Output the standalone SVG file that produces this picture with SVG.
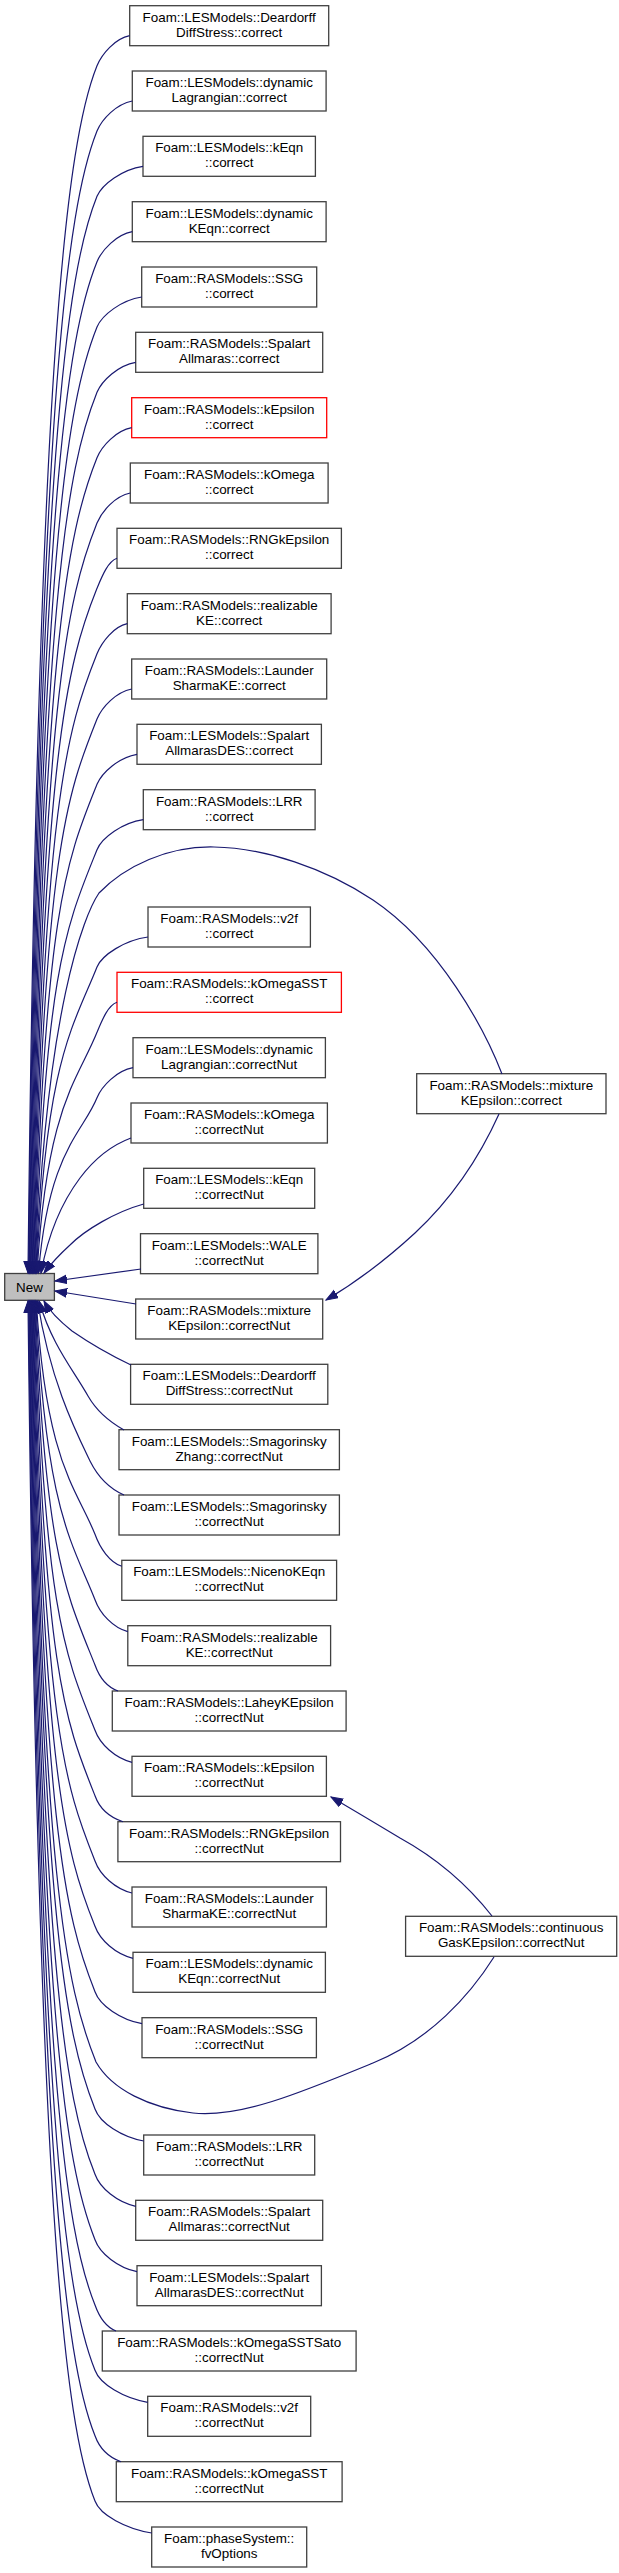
<svg xmlns="http://www.w3.org/2000/svg" width="619" height="2573" viewBox="0 0 619 2573">
<style>
.n rect{fill:#ffffff;stroke:#404040;stroke-width:1.3}
.n.r rect{stroke:#ff0000}
.n.m rect{fill:#bfbfbf}
text{font-family:"Liberation Sans",Arial,Helvetica,sans-serif;font-size:13.4px;text-anchor:middle;fill:#000000}
.e path{fill:none;stroke:#191970;stroke-width:1.2;marker-end:url(#ah)}
</style>
<defs>
<marker id="ah" markerUnits="userSpaceOnUse" markerWidth="14" markerHeight="12" refX="12" refY="5" orient="auto">
<path d="M0,0.6 L12,5 L0,9.4 Z" fill="#191970" stroke="#191970" stroke-width="1"/>
</marker>
</defs>
<rect x="0" y="0" width="619" height="2573" fill="#ffffff"/>
<g id="nodes">
<g id="new" class="n m"><rect x="4.7" y="1273.5" width="49.7" height="26.8"/><text x="29.5" y="1291.5">New</text></g>
<g id="n0" class="n"><rect x="129.7" y="5.7" width="199" height="40"/><text x="229.2" y="21.7">Foam::LESModels::Deardorff</text><text x="229.2" y="36.7">DiffStress::correct</text></g>
<g id="n1" class="n"><rect x="132.3" y="71" width="193.8" height="40"/><text x="229.2" y="87">Foam::LESModels::dynamic</text><text x="229.2" y="102">Lagrangian::correct</text></g>
<g id="n2" class="n"><rect x="143" y="136.3" width="172.4" height="40"/><text x="229.2" y="152.3">Foam::LESModels::kEqn</text><text x="229.2" y="167.3">::correct</text></g>
<g id="n3" class="n"><rect x="132.3" y="201.7" width="193.8" height="40"/><text x="229.2" y="217.7">Foam::LESModels::dynamic</text><text x="229.2" y="232.7">KEqn::correct</text></g>
<g id="n4" class="n"><rect x="141.7" y="267" width="175" height="40"/><text x="229.2" y="283">Foam::RASModels::SSG</text><text x="229.2" y="298">::correct</text></g>
<g id="n5" class="n"><rect x="135.7" y="332.3" width="187" height="40"/><text x="229.2" y="348.3">Foam::RASModels::Spalart</text><text x="229.2" y="363.3">Allmaras::correct</text></g>
<g id="n6" class="n r"><rect x="131.7" y="397.7" width="195" height="40"/><text x="229.2" y="413.7">Foam::RASModels::kEpsilon</text><text x="229.2" y="428.7">::correct</text></g>
<g id="n7" class="n"><rect x="130.3" y="463" width="197.8" height="40"/><text x="229.2" y="479">Foam::RASModels::kOmega</text><text x="229.2" y="494">::correct</text></g>
<g id="n8" class="n"><rect x="117" y="528.3" width="224.4" height="40"/><text x="229.2" y="544.3">Foam::RASModels::RNGkEpsilon</text><text x="229.2" y="559.3">::correct</text></g>
<g id="n9" class="n"><rect x="127.3" y="593.7" width="203.8" height="40"/><text x="229.2" y="609.7">Foam::RASModels::realizable</text><text x="229.2" y="624.7">KE::correct</text></g>
<g id="n10" class="n"><rect x="131.7" y="659" width="195" height="40"/><text x="229.2" y="675">Foam::RASModels::Launder</text><text x="229.2" y="690">SharmaKE::correct</text></g>
<g id="n11" class="n"><rect x="137" y="724.3" width="184.4" height="40"/><text x="229.2" y="740.3">Foam::LESModels::Spalart</text><text x="229.2" y="755.3">AllmarasDES::correct</text></g>
<g id="n12" class="n"><rect x="143.3" y="789.7" width="171.8" height="40"/><text x="229.2" y="805.7">Foam::RASModels::LRR</text><text x="229.2" y="820.7">::correct</text></g>
<g id="n13" class="n"><rect x="148" y="907" width="162.4" height="40"/><text x="229.2" y="923">Foam::RASModels::v2f</text><text x="229.2" y="938">::correct</text></g>
<g id="n14" class="n r"><rect x="117" y="972.3" width="224.4" height="40"/><text x="229.2" y="988.3">Foam::RASModels::kOmegaSST</text><text x="229.2" y="1003.3">::correct</text></g>
<g id="n15" class="n"><rect x="133" y="1037.7" width="192.4" height="40"/><text x="229.2" y="1053.7">Foam::LESModels::dynamic</text><text x="229.2" y="1068.7">Lagrangian::correctNut</text></g>
<g id="n16" class="n"><rect x="131" y="1103" width="196.4" height="40"/><text x="229.2" y="1119">Foam::RASModels::kOmega</text><text x="229.2" y="1134">::correctNut</text></g>
<g id="n17" class="n"><rect x="143.7" y="1168.3" width="171" height="40"/><text x="229.2" y="1184.3">Foam::LESModels::kEqn</text><text x="229.2" y="1199.3">::correctNut</text></g>
<g id="n18" class="n"><rect x="140.5" y="1233.7" width="177.4" height="40"/><text x="229.2" y="1249.7">Foam::LESModels::WALE</text><text x="229.2" y="1264.7">::correctNut</text></g>
<g id="n19" class="n"><rect x="135.7" y="1299" width="187" height="40"/><text x="229.2" y="1315">Foam::RASModels::mixture</text><text x="229.2" y="1330">KEpsilon::correctNut</text></g>
<g id="n20" class="n"><rect x="130.6" y="1364.3" width="197.2" height="40"/><text x="229.2" y="1380.3">Foam::LESModels::Deardorff</text><text x="229.2" y="1395.3">DiffStress::correctNut</text></g>
<g id="n21" class="n"><rect x="119" y="1429.7" width="220.4" height="40"/><text x="229.2" y="1445.7">Foam::LESModels::Smagorinsky</text><text x="229.2" y="1460.7">Zhang::correctNut</text></g>
<g id="n22" class="n"><rect x="119" y="1495" width="220.4" height="40"/><text x="229.2" y="1511">Foam::LESModels::Smagorinsky</text><text x="229.2" y="1526">::correctNut</text></g>
<g id="n23" class="n"><rect x="121.8" y="1560.3" width="214.8" height="40"/><text x="229.2" y="1576.3">Foam::LESModels::NicenoKEqn</text><text x="229.2" y="1591.3">::correctNut</text></g>
<g id="n24" class="n"><rect x="127.8" y="1625.7" width="202.8" height="40"/><text x="229.2" y="1641.7">Foam::RASModels::realizable</text><text x="229.2" y="1656.7">KE::correctNut</text></g>
<g id="n25" class="n"><rect x="112.3" y="1691" width="233.8" height="40"/><text x="229.2" y="1707">Foam::RASModels::LaheyKEpsilon</text><text x="229.2" y="1722">::correctNut</text></g>
<g id="n26" class="n"><rect x="132" y="1756.3" width="194.4" height="40"/><text x="229.2" y="1772.3">Foam::RASModels::kEpsilon</text><text x="229.2" y="1787.3">::correctNut</text></g>
<g id="n27" class="n"><rect x="117.9" y="1821.7" width="222.6" height="40"/><text x="229.2" y="1837.7">Foam::RASModels::RNGkEpsilon</text><text x="229.2" y="1852.7">::correctNut</text></g>
<g id="n28" class="n"><rect x="132" y="1887" width="194.4" height="40"/><text x="229.2" y="1903">Foam::RASModels::Launder</text><text x="229.2" y="1918">SharmaKE::correctNut</text></g>
<g id="n29" class="n"><rect x="133" y="1952.3" width="192.4" height="40"/><text x="229.2" y="1968.3">Foam::LESModels::dynamic</text><text x="229.2" y="1983.3">KEqn::correctNut</text></g>
<g id="n30" class="n"><rect x="142" y="2017.7" width="174.4" height="40"/><text x="229.2" y="2033.7">Foam::RASModels::SSG</text><text x="229.2" y="2048.7">::correctNut</text></g>
<g id="n31" class="n"><rect x="143.7" y="2135" width="171" height="40"/><text x="229.2" y="2151">Foam::RASModels::LRR</text><text x="229.2" y="2166">::correctNut</text></g>
<g id="n32" class="n"><rect x="135.7" y="2200.3" width="187" height="40"/><text x="229.2" y="2216.3">Foam::RASModels::Spalart</text><text x="229.2" y="2231.3">Allmaras::correctNut</text></g>
<g id="n33" class="n"><rect x="137" y="2265.7" width="184.4" height="40"/><text x="229.2" y="2281.7">Foam::LESModels::Spalart</text><text x="229.2" y="2296.7">AllmarasDES::correctNut</text></g>
<g id="n34" class="n"><rect x="102.3" y="2331" width="253.8" height="40"/><text x="229.2" y="2347">Foam::RASModels::kOmegaSSTSato</text><text x="229.2" y="2362">::correctNut</text></g>
<g id="n35" class="n"><rect x="147.7" y="2396.3" width="163" height="40"/><text x="229.2" y="2412.3">Foam::RASModels::v2f</text><text x="229.2" y="2427.3">::correctNut</text></g>
<g id="n36" class="n"><rect x="116.3" y="2461.7" width="225.8" height="40"/><text x="229.2" y="2477.7">Foam::RASModels::kOmegaSST</text><text x="229.2" y="2492.7">::correctNut</text></g>
<g id="n37" class="n"><rect x="151.7" y="2527" width="155" height="40"/><text x="229.2" y="2543">Foam::phaseSystem::</text><text x="229.2" y="2558">fvOptions</text></g>
<g id="nmix" class="n"><rect x="416.7" y="1073.7" width="189.3" height="40"/><text x="511.3" y="1089.7">Foam::RASModels::mixture</text><text x="511.3" y="1104.7">KEpsilon::correct</text></g>
<g id="ncg" class="n"><rect x="405.6" y="1916.3" width="211.1" height="40"/><text x="511.2" y="1932.3">Foam::RASModels::continuous</text><text x="511.2" y="1947.3">GasKEpsilon::correctNut</text></g>
</g>
<g id="edges" class="e">
<path d="M129.7,35.7 C115,38.7 102,53.7 97,65.7 C67,140.7 38,355.5 28,1273"/>
<path d="M132.3,101 C116.4,104 102,119 97,131 C67,206 38.6,405.1 28.6,1273"/>
<path d="M143,166.3 C122.3,169.3 102,184.3 97,196.3 C67,271.3 39.2,454.7 29.2,1273"/>
<path d="M132.3,231.7 C116.4,234.7 102,249.7 97,261.7 C67,336.7 39.8,504.4 29.8,1273"/>
<path d="M141.7,297 C121.6,300 102,315 97,327 C67,402 40.4,554 30.4,1273"/>
<path d="M135.7,362.3 C118.3,365.3 102,380.3 97,392.3 C67,467.3 41,603.7 31,1273"/>
<path d="M131.7,427.7 C116.1,430.7 102,445.7 97,457.7 C67,532.7 41.6,653.4 31.6,1273"/>
<path d="M130.3,493 C115.3,496 102,511 97,523 C67,598 42.2,703 32.2,1273"/>
<path d="M117,558.3 C108,561.3 102,576.3 97,588.3 C67,663.3 42.8,752.6 32.8,1273"/>
<path d="M127.3,623.7 C113.7,626.7 102,641.7 97,653.7 C67,728.7 43.4,802.3 33.4,1273"/>
<path d="M131.7,689 C116.1,692 102,707 97,719 C67,794 44,852 34,1273"/>
<path d="M137,754.3 C119,757.3 102,772.3 97,784.3 C67,859.3 44.6,908.2 34.6,1273"/>
<path d="M143.3,819.7 C122.5,822.7 102,837.7 97,849.7 C67,924.7 45.2,967 35.2,1273"/>
<path d="M502,1074 C485,1030 440,945 373,900 C325,868 265,848 214,847 C168,846 125,866 99,893 C84,915 45.8,1010 35.8,1273"/>
<path d="M148,937 C125,940 102,955 97,967 C72.5,1028.2 46.4,1058.8 36.4,1273"/>
<path d="M117,1002.3 C108,1005.3 102,1020.3 97,1032.3 C77.8,1080.4 47,1104.5 37,1273"/>
<path d="M133,1067.7 C116.8,1070.7 102,1085.7 97,1097.7 C83,1132.8 48.5,1150.3 38.5,1273"/>
<path d="M131,1138 C112,1145 95,1158 80,1178 C62,1202 48,1235 41,1273"/>
<path d="M143.7,1204 C115,1212 85,1230 70,1245 C58,1256 50,1265 44,1273"/>
<path d="M141,1269 L55,1281"/>
<path d="M136,1304 L55,1291"/>
<path d="M131,1365 C110,1355 85,1340 72,1331 C62,1323 50,1312 44,1301"/>
<path d="M124,1430 C108,1421 96,1410 88,1396 C72,1368 52,1345 39,1301"/>
<path d="M124,1495 C108,1488 97,1475 90,1461 C75,1430 50,1380 37.5,1301"/>
<path d="M121.8,1566.3 C109.7,1562.3 100,1548.3 95,1534.3 C76.3,1487.6 46.25,1464.3 36.25,1301"/>
<path d="M127.8,1631.7 C113,1627.7 100,1613.7 95,1599.7 C71.1,1540 45.7,1510.1 35.7,1301"/>
<path d="M118,1691 C107,1687 100,1679 95,1665 C65.9,1592.2 45.15,1555.8 35.15,1301"/>
<path d="M132,1762.3 C115.3,1758.3 100,1744.3 95,1730.3 C65,1655.3 44.6,1612.4 34.6,1301"/>
<path d="M123,1821.7 C111,1817.7 100,1809.7 95,1795.7 C65,1720.7 44.05,1671.2 34.05,1301"/>
<path d="M132,1893 C115.3,1889 100,1875 95,1861 C65,1786 43.5,1726.6 33.5,1301"/>
<path d="M133,1958.3 C115.9,1954.3 100,1940.3 95,1926.3 C65,1851.3 42.95,1776.2 32.95,1301"/>
<path d="M142,2023.7 C120.8,2019.7 100,2005.7 95,1991.7 C65,1916.7 42.4,1825.9 32.4,1301"/>
<path d="M494,1957 C470,1995 430,2040 373,2063 C300,2093 240,2118 193,2113 C150,2108 112,2090 96,2062 C66,1987 41.85,1880 31.85,1301"/>
<path d="M143.7,2141 C121.8,2137 100,2123 95,2109 C65,2034 41.3,1915.1 31.3,1301"/>
<path d="M135.7,2206.3 C117.4,2202.3 100,2188.3 95,2174.3 C65,2099.3 40.75,1964.7 30.75,1301"/>
<path d="M137,2271.7 C118.1,2267.7 100,2253.7 95,2239.7 C65,2164.7 40.2,2014.4 30.2,1301"/>
<path d="M116,2331 C106,2327 100,2319 95,2305 C65,2230 39.65,2064 29.65,1301"/>
<path d="M147.7,2402.3 C124,2398.3 100,2384.3 95,2370.3 C65,2295.3 39.1,2113.7 29.1,1301"/>
<path d="M121,2461.7 C110,2457.7 100,2449.7 95,2435.7 C65,2360.7 38.55,2163.4 28.55,1301"/>
<path d="M151.7,2533 C126.2,2529 100,2515 95,2501 C65,2426 38,2213 28,1301"/>
<path d="M499,1114 C476,1165 445,1205 415,1233 C390,1256 360,1280 326,1300"/>
<path d="M492,1916 C470,1888 440,1860 400,1838 C375,1823 350,1808 331,1797"/>
</g>
</svg>
